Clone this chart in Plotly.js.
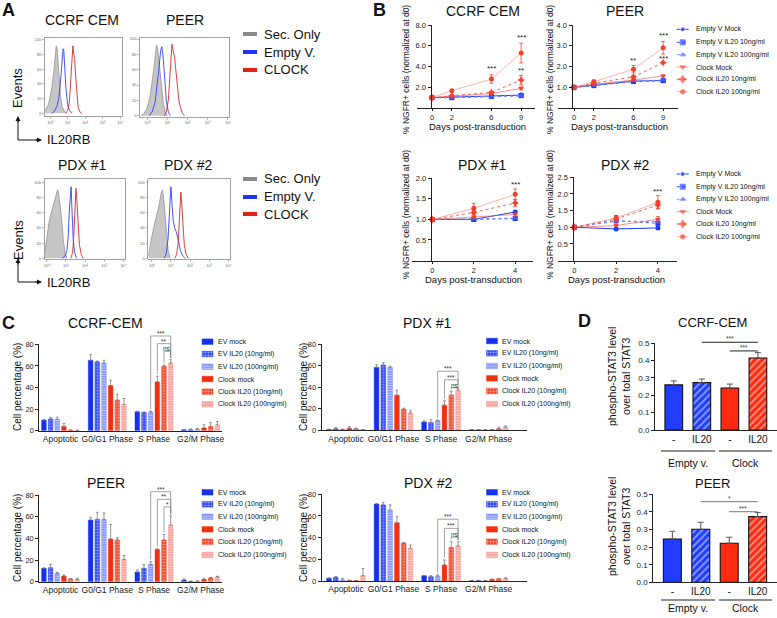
<!DOCTYPE html>
<html>
<head>
<meta charset="utf-8">
<script src="https://cdn.plot.ly/plotly-3.0.1.min.js"></script>
<style>
html,body{margin:0;padding:0;background:#fff;}
#chart{width:777px;height:618px;}
</style>
</head>
<body>
<div id="chart"></div>
<script>
// ================= DATA =================
// ---- Panel A: flow histograms (x = log10 IL20RB intensity, y = % of max) ----
const aDecades = [0, 1, 2, 3, 4];
const aDecadeLabels = ['10⁰', '10¹', '10²', '10³', '10⁴'];
const aPctTicks = [0, 20, 40, 60, 80, 100];
const aLegend = ['Sec. Only', 'Empty V.', 'CLOCK'];
const aTitles = ['CCRF CEM', 'PEER', 'PDX #1', 'PDX #2'];

const aCcrfSecX = [-0.29, -0.2, -0.1, 0, 0.1, 0.2, 0.28, 0.35, 0.4, 0.45, 0.52, 0.6, 0.7, 0.8, 0.9];
const aCcrfSecY = [2, 6, 12, 22, 35, 55, 78, 92, 88, 70, 45, 22, 8, 3, 0];
const aCcrfEvX = [0.1, 0.25, 0.4, 0.5, 0.6, 0.68, 0.74, 0.78, 0.83, 0.9, 1.0, 1.1, 1.25];
const aCcrfEvY = [0, 3, 10, 22, 45, 75, 88, 86, 65, 35, 12, 4, 0];
const aCcrfClkX = [0.9, 1.0, 1.1, 1.18, 1.24, 1.3, 1.34, 1.4, 1.46, 1.52, 1.6, 1.7, 1.8];
const aCcrfClkY = [0, 4, 15, 45, 80, 92, 82, 75, 50, 25, 8, 2, 0];

const aPeerSecX = [-0.3, -0.15, 0, 0.15, 0.3, 0.4, 0.47, 0.52, 0.6, 0.7, 0.8, 0.9, 1.0];
const aPeerSecY = [0, 3, 10, 25, 55, 82, 92, 88, 68, 40, 18, 5, 0];
const aPeerEvX = [0.1, 0.25, 0.4, 0.5, 0.6, 0.67, 0.73, 0.8, 0.88, 0.95, 1.05, 1.15];
const aPeerEvY = [0, 5, 18, 38, 65, 85, 90, 75, 45, 20, 5, 0];
const aPeerClkX = [0.85, 0.95, 1.05, 1.12, 1.18, 1.23, 1.28, 1.35, 1.42, 1.5, 1.58, 1.66, 1.75, 1.85];
const aPeerClkY = [0, 5, 20, 50, 80, 93, 85, 78, 60, 35, 18, 10, 3, 0];

const aPdx1SecX = [-0.12, -0.05, 0.02, 0.1, 0.18, 0.26, 0.34, 0.42, 0.5, 0.56, 0.62, 0.7, 0.78, 0.86, 0.95, 1.05];
const aPdx1SecY = [5, 20, 35, 45, 55, 62, 70, 78, 84, 90, 86, 70, 50, 25, 8, 0];
const aPdx1EvX = [0.8, 0.95, 1.05, 1.12, 1.18, 1.23, 1.27, 1.32, 1.38, 1.45, 1.55];
const aPdx1EvY = [0, 3, 10, 30, 65, 92, 94, 60, 25, 8, 0];
const aPdx1ClkX = [1.25, 1.35, 1.42, 1.47, 1.52, 1.56, 1.62, 1.7, 1.8, 1.9];
const aPdx1ClkY = [0, 8, 35, 75, 92, 80, 45, 18, 5, 0];

const aPdx2SecX = [-0.17, -0.1, 0, 0.1, 0.2, 0.3, 0.4, 0.48, 0.56, 0.62, 0.7, 0.78, 0.86, 0.96];
const aPdx2SecY = [3, 15, 28, 40, 50, 60, 72, 85, 90, 80, 55, 30, 10, 0];
const aPdx2EvX = [0.65, 0.75, 0.85, 0.92, 0.97, 1.0, 1.05, 1.12, 1.2, 1.28, 1.38, 1.5, 1.62, 1.75];
const aPdx2EvY = [0, 5, 25, 60, 88, 94, 75, 50, 40, 35, 25, 10, 3, 0];
const aPdx2ClkX = [1.2, 1.3, 1.38, 1.44, 1.48, 1.52, 1.56, 1.62, 1.7, 1.8, 1.9];
const aPdx2ClkY = [0, 5, 20, 50, 78, 87, 75, 45, 18, 5, 0];

// ---- Panel B: % NGFR+ cells normalized at d0 ----
const bSeries = ['Empty V Mock', 'Empty V IL20 10ng/ml', 'Empty V IL20 100ng/ml', 'Clock Mock', 'Clock IL20 10ng/ml', 'Clock IL20 100ng/ml'];
const bDaysCell = [0, 2, 6, 9];
const bDaysPdx = [0, 2, 4];
const bCcrf = [[1.0, 1.04, 1.15, 1.25], [1.0, 1.0, 1.12, 1.2], [1.0, 1.02, 1.1, 1.2], [1.0, 1.15, 1.4, 1.9], [1.0, 1.2, 1.5, 2.7], [1.0, 1.68, 2.8, 5.3]];
const bCcrfErr = [[0, 0.03, 0.05, 0.05], [0, 0.03, 0.05, 0.05], [0, 0.03, 0.05, 0.05], [0, 0.05, 0.1, 0.15], [0, 0.05, 0.1, 0.45], [0, 0.1, 0.4, 0.95]];
const bPeer = [[1.0, 1.1, 1.3, 1.33], [1.0, 1.08, 1.28, 1.32], [1.0, 1.1, 1.32, 1.35], [1.0, 1.15, 1.35, 1.55], [1.0, 1.2, 1.5, 2.19], [1.0, 1.27, 1.87, 2.9]];
const bPeerErr = [[0, 0.03, 0.04, 0.05], [0, 0.03, 0.04, 0.05], [0, 0.03, 0.04, 0.05], [0, 0.04, 0.05, 0.05], [0, 0.05, 0.05, 0.05], [0, 0.08, 0.18, 0.3]];
const bPdx1 = [[1, 1.0, 1.18], [1, 1.0, 1.02], [1, 1.01, 1.03], [1, 1.06, 1.12], [1, 1.17, 1.40], [1, 1.27, 1.61]];
const bPdx1Err = [[0, 0.02, 0.03], [0, 0.02, 0.02], [0, 0.02, 0.02], [0, 0.03, 0.04], [0, 0.05, 0.08], [0, 0.12, 0.13]];
const bPdx2 = [[1, 0.95, 0.98], [1, 1.2, 1.12], [1, 1.18, 1.18], [1, 1.05, 1.24], [1, 1.25, 1.67], [1, 1.28, 1.75]];
const bPdx2Err = [[0, 0.02, 0.03], [0, 0.15, 0.06], [0, 0.05, 0.06], [0, 0.04, 0.08], [0, 0.06, 0.1], [0, 0.06, 0.2]];
const bCcrfSig = [[6, 3.8, '***'], [9, 6.8, '***'], [9, 3.6, '**']];
const bPeerSig = [[6, 2.27, '**'], [9, 3.49, '***'], [9, 2.37, '***']];
const bPdx1Sig = [[4, 1.85, '***']];
const bPdx2Sig = [[4, 2.07, '***']];

// ---- Panel C: cell-cycle phase percentages ----
const cPhases = ['Apoptotic', 'G0/G1 Phase', 'S Phase', 'G2/M Phase'];
const cSeries = ['EV mock', 'EV IL20 (10ng/ml)', 'EV IL20 (100ng/ml)', 'Clock mock', 'Clock IL20 (10ng/ml)', 'Clock IL20 (100ng/ml)'];
const cCcrf = [[9.8, 65.2, 17.5, 0.8], [10.8, 63.7, 16.9, 0.8], [10.5, 62.8, 17.2, 1.0], [4.0, 41.8, 45.2, 2.5], [0.5, 28.3, 59.7, 4.0], [0.3, 24.3, 62.8, 5.5]];
const cCcrfErr = [[0.5, 5.3, 0.5, 0.3], [1.5, 0.8, 0.5, 0.8], [2.0, 2.4, 1.0, 1.0], [2.8, 5.0, 5.3, 3.0], [0.2, 5.5, 1.0, 3.5], [0.2, 5.5, 3.0, 3.0]];
const cPdx1 = [[0.8, 58.6, 7.8, 0.5], [1.5, 60.7, 7.2, 0.5], [0.8, 58.6, 9.0, 0.5], [2.0, 32.7, 23.4, 0.5], [1.5, 19.6, 32.7, 1.5], [0.5, 16.2, 37.4, 3.0]];
const cPdx1Err = [[0.3, 2.5, 1.0, 0.2], [1.0, 2.2, 2.5, 0.2], [0.3, 1.0, 0.5, 0.2], [1.5, 4.7, 4.0, 0.2], [0.5, 1.0, 3.7, 1.5], [0.2, 2.5, 2.2, 1.0]];
const cPeer = [[12.3, 56.9, 8.9, 1.5], [12.9, 57.5, 12.3, 0.3], [7.7, 57.5, 16.0, 0.5], [5.2, 39.4, 29.8, 2.0], [2.5, 38.5, 38.5, 3.5], [2.0, 20.6, 52.3, 4.5]];
const cPeerErr = [[0.5, 2.5, 2.0, 1.0], [3.0, 6.5, 3.5, 0.2], [1.0, 6.0, 2.5, 0.2], [1.0, 13.5, 0.5, 1.0], [0.3, 2.0, 5.0, 0.5], [1.0, 3.5, 8.5, 0.5]];
const cPdx2 = [[2.5, 71.0, 4.9, 0.3], [3.5, 70.2, 4.0, 0.3], [1.0, 65.5, 4.6, 0.3], [0.5, 53.8, 14.8, 1.5], [0.3, 35.0, 30.8, 2.0], [5.0, 30.2, 32.3, 2.5]];
const cPdx2Err = [[0.5, 0.5, 0.3, 0.1], [0.5, 2.4, 1.0, 0.1], [1.5, 4.7, 1.0, 0.1], [0.2, 5.6, 4.6, 0.2], [0.1, 0.5, 5.5, 0.3], [6.5, 3.0, 4.0, 0.5]];
const cCcrfSig = [['***', 2, 5, 87.7], ['**', 3, 5, 80.6], ['ns', 4, 5, 73.5]];
const cPdx1Sig = [['***', 2, 5, 55.0], ['***', 3, 5, 47.0], ['ns', 4, 5, 39.5]];
const cPeerSig = [['***', 2, 5, 83.0], ['**', 3, 5, 76.0], ['*', 4, 5, 69.0]];
const cPdx2Sig = [['***', 2, 5, 57.0], ['***', 3, 5, 48.6], ['ns', 4, 5, 40.5]];

// ---- Panel D: phospho-STAT3 / total STAT3 ----
const dLabels = ['-', 'IL20', '-', 'IL20'];
const dGroups = ['Empty v.', 'Clock'];
const dCcrf = [0.26, 0.273, 0.242, 0.415];
const dCcrfErr = [0.023, 0.021, 0.023, 0.031];
const dPeer = [0.246, 0.301, 0.222, 0.373];
const dPeerErr = [0.044, 0.040, 0.034, 0.023];
const dCcrfSig = [['***', 1, 3, 0.506], ['***', 2, 3, 0.456]];
const dPeerSig = [['*', 1, 3, 0.458], ['***', 2, 3, 0.401]];

// ================= HELPERS =================
const FONT = '"Liberation Sans", Arial, sans-serif';
const W = 777, H = 618;
const fx = p => p / W;
const fy = p => 1 - p / H;
const sub = k => (k === 1 ? '' : String(k));
const traces = [];
const annotations = [];
const shapes = [];
const layout = {
  width: W, height: H, margin: {l: 0, r: 0, t: 0, b: 0, pad: 0}, showlegend: false,
  paper_bgcolor: '#ffffff', plot_bgcolor: 'rgba(0,0,0,0)',
  font: {family: FONT, color: '#111'},
  barmode: 'group', bargap: 0.143, bargroupgap: 0.3
};
function setAxes(k, xa, ya) {
  layout['xaxis' + sub(k)] = Object.assign({anchor: 'y' + sub(k), showgrid: false, zeroline: false, fixedrange: true}, xa);
  layout['yaxis' + sub(k)] = Object.assign({anchor: 'x' + sub(k), showgrid: false, zeroline: false, fixedrange: true}, ya);
}
// data value -> paper fraction on subplot k (for marks allowed outside the plot range)
function dpx(k, v) { const a = layout['xaxis' + sub(k)]; return a.domain[0] + (v - a.range[0]) / (a.range[1] - a.range[0]) * (a.domain[1] - a.domain[0]); }
function dpy(k, v) { const a = layout['yaxis' + sub(k)]; return a.domain[0] + (v - a.range[0]) / (a.range[1] - a.range[0]) * (a.domain[1] - a.domain[0]); }
function ann(text, x, y, size, extra) {
  const a = {text: text, x: fx(x), y: fy(y), xref: 'paper', yref: 'paper', showarrow: false,
    xanchor: 'center', yanchor: 'middle', font: {family: FONT, size: size, color: '#111'}};
  return Object.assign(a, extra || {});
}
function pline(x0, y0, x1, y1, color, w) {
  return {type: 'line', xref: 'paper', yref: 'paper', x0: fx(x0), y0: fy(y0), x1: fx(x1), y1: fy(y1), line: {color: color, width: w}};
}
function prect(x0, y0, x1, y1, color) {
  return {type: 'rect', xref: 'paper', yref: 'paper', x0: fx(x0), y0: fy(y0), x1: fx(x1), y1: fy(y1), fillcolor: color, line: {width: 0}};
}

// ================= PANEL A =================
function histAxes(k, x0, x1, yTop, yBot, xr, yr) {
  const common = {showline: true, mirror: true, linecolor: '#8c8c8c', linewidth: 0.8, ticks: 'outside', ticklen: 2, tickwidth: 0.6, tickcolor: '#888', tickfont: {size: 4, color: '#666', family: FONT}};
  setAxes(k, Object.assign({domain: [fx(x0), fx(x1)], range: xr, tickvals: aDecades, ticktext: aDecadeLabels}, common),
             Object.assign({domain: [fy(yBot), fy(yTop)], range: yr, tickvals: aPctTicks}, common));
}
histAxes(1, 45, 122, 37.5, 116, [-0.29, 4.1], [-3.7, 103.4]);
histAxes(2, 140, 229, 37.7, 116.7, [-0.35, 4.05], [-1.3, 101.7]);
histAxes(3, 44.5, 125, 179.3, 259.3, [-0.12, 4.08], [-1.3, 103.9]);
histAxes(4, 148.3, 230, 179.3, 259.3, [-0.18, 4.09], [-1.3, 103.9]);
const histSets = [
  [1, aCcrfSecX, aCcrfSecY, aCcrfEvX, aCcrfEvY, aCcrfClkX, aCcrfClkY],
  [2, aPeerSecX, aPeerSecY, aPeerEvX, aPeerEvY, aPeerClkX, aPeerClkY],
  [3, aPdx1SecX, aPdx1SecY, aPdx1EvX, aPdx1EvY, aPdx1ClkX, aPdx1ClkY],
  [4, aPdx2SecX, aPdx2SecY, aPdx2EvX, aPdx2EvY, aPdx2ClkX, aPdx2ClkY]
];
histSets.forEach(s => {
  const k = s[0], xa = 'x' + sub(k), ya = 'y' + sub(k);
  traces.push({type: 'scatter', mode: 'lines', x: s[1], y: s[2], xaxis: xa, yaxis: ya, fill: 'tozeroy', fillcolor: '#c6c6c6', line: {color: '#8a8a8a', width: 0.7}, hoverinfo: 'skip'});
  traces.push({type: 'scatter', mode: 'lines', x: s[3], y: s[4], xaxis: xa, yaxis: ya, line: {color: '#3340ff', width: 0.9}, hoverinfo: 'skip'});
  traces.push({type: 'scatter', mode: 'lines', x: s[5], y: s[6], xaxis: xa, yaxis: ya, line: {color: '#d42a2a', width: 0.9}, hoverinfo: 'skip'});
});
annotations.push(ann('<b>A</b>', 8.5, 10, 18));
annotations.push(ann(aTitles[0], 82, 20, 14), ann(aTitles[1], 185, 20, 14), ann(aTitles[2], 82, 165, 14), ann(aTitles[3], 188, 165, 14));
const aLegColors = ['#8a8a8a', '#2233ff', '#e0201a'];
[[34, 52, 70], [179, 197, 214]].forEach(rows => {
  rows.forEach((ry, i) => {
    shapes.push(prect(243, ry - 2, 257, ry + 2, aLegColors[i]));
    annotations.push(ann(aLegend[i], 262, ry, 13, {xanchor: 'left'}));
  });
});
[[88, 140], [240, 282]].forEach(p => {
  const ev = p[0], cy = p[1];
  annotations.push(ann('Events', 18, ev, 13, {textangle: -90}));
  annotations.push(ann('IL20RB', 45, cy, 13, {xanchor: 'left'}));
  shapes.push({type: 'path', xref: 'paper', yref: 'paper', path: `M ${fx(18)},${fy(cy - 22)} L ${fx(18)},${fy(cy)} L ${fx(40)},${fy(cy)}`, line: {color: '#111', width: 1}});
  annotations.push({x: fx(18), y: fy(cy - 24), xref: 'paper', yref: 'paper', text: '', showarrow: true, ax: 0, ay: 8, arrowhead: 2, arrowsize: 1, arrowwidth: 1, arrowcolor: '#111', standoff: 0});
  annotations.push({x: fx(42), y: fy(cy), xref: 'paper', yref: 'paper', text: '', showarrow: true, ax: -8, ay: 0, arrowhead: 2, arrowsize: 1, arrowwidth: 1, arrowcolor: '#111', standoff: 0});
});

// ================= PANEL B =================
const bStyles = [
  {mc: '#1f3aff', lc: '#1f3aff', dash: 'solid', sym: 'circle', size: 5},
  {mc: '#1f3aff', lc: '#3a55ff', dash: 'dot', sym: 'square', size: 5},
  {mc: '#3d5bff', lc: '#7d90ff', dash: 'dot', sym: 'triangle-up', size: 5},
  {mc: '#f2412c', lc: 'rgba(240,80,60,0.6)', dash: 'solid', sym: 'triangle-down', size: 5},
  {mc: '#f2412c', lc: 'rgba(240,60,40,0.8)', dash: 'dot', sym: 'star-diamond', size: 6},
  {mc: '#f2412c', lc: 'rgba(245,130,115,0.6)', dash: 'solid', sym: 'circle', size: 5}
];
function lineAxes(k, xd0, xd1, yPos, yTop, yBot, xr, yr, xt, yt) {
  const tf = {size: 7.5, family: FONT, color: '#222'};
  setAxes(k, {domain: [fx(xd0), fx(xd1)], range: xr, showline: true, linecolor: '#222', linewidth: 1, ticks: 'outside', ticklen: 2, tickwidth: 1, tickcolor: '#222', tickvals: xt, tickfont: tf},
             {domain: [fy(yBot), fy(yTop)], range: yr, anchor: 'free', position: fx(yPos), showline: true, linecolor: '#222', linewidth: 1, ticks: 'outside', ticklen: 3, tickwidth: 1, tickcolor: '#222', tickvals: yt, ticktext: yt.map(v => v.toFixed(1)), tickfont: tf});
}
lineAxes(5, 417, 535, 430.5, 25, 108.1, [-1.52, 10.4], [0, 8], bDaysCell, [2, 4, 6, 8]);
lineAxes(6, 558, 678, 571.5, 25, 108.1, [-1.62, 10.5], [0, 4], bDaysCell, [1, 2, 3, 4]);
lineAxes(7, 411.7, 533, 430.8, 178.3, 260.5, [-1.0, 4.86], [0, 2], bDaysPdx, [0.5, 1, 1.5, 2]);
lineAxes(8, 558.3, 676.7, 572.5, 177.3, 260.6, [-0.77, 4.9], [0, 2.5], bDaysPdx, [0.5, 1, 1.5, 2, 2.5]);
function lineTraces(k, days, vals, errs, sig) {
  const xa = 'x' + sub(k), ya = 'y' + sub(k);
  vals.forEach((v, i) => {
    const s = bStyles[i];
    traces.push({type: 'scatter', mode: 'lines+markers', x: days, y: v, xaxis: xa, yaxis: ya,
      line: {color: s.lc, width: 1, dash: s.dash}, marker: {symbol: s.sym, size: s.size, color: s.mc},
      error_y: {type: 'data', array: errs[i], visible: true, color: s.mc, thickness: 0.8, width: 2}, hoverinfo: 'skip'});
  });
  sig.forEach(g => annotations.push({xref: 'paper', yref: 'paper', x: dpx(k, g[0]), y: dpy(k, g[1]), text: g[2], showarrow: false, font: {family: FONT, size: 8, color: '#222'}, xanchor: 'center', yanchor: 'middle'}));
}
lineTraces(5, bDaysCell, bCcrf, bCcrfErr, bCcrfSig);
lineTraces(6, bDaysCell, bPeer, bPeerErr, bPeerSig);
lineTraces(7, bDaysPdx, bPdx1, bPdx1Err, bPdx1Sig);
lineTraces(8, bDaysPdx, bPdx2, bPdx2Err, bPdx2Sig);
annotations.push(ann('<b>B</b>', 379, 10, 18));
annotations.push(ann('CCRF CEM', 483, 11, 14), ann('PEER', 625, 11, 14), ann('PDX #1', 482, 165, 14), ann('PDX #2', 625, 165, 14));
[[406, 70], [550, 70], [406, 215], [550, 215]].forEach(p => annotations.push(ann('% NGFR+ cells (normalized at d0)', p[0], p[1], 8.5, {textangle: -90})));
[[477, 126], [619, 126], [473, 280], [616.5, 280]].forEach(p => annotations.push(ann('Days post-transduction', p[0], p[1], 9.5)));

// ================= PANEL C =================
const cStyles = [
  {bg: '#1530f0', shape: '', fg: '#ffffff', size: 3, sol: 0.4, edge: '#1530f0'},
  {bg: '#1530f0', shape: '.', fg: '#ffffff', size: 3, sol: 0.5, edge: '#1530f0'},
  {bg: '#8494ff', shape: '-', fg: '#ffffff', size: 2.5, sol: 0.4, edge: '#6c80ff'},
  {bg: '#f2300f', shape: '', fg: '#ffffff', size: 3, sol: 0.4, edge: '#f2300f'},
  {bg: '#f2300f', shape: '.', fg: '#ffffff', size: 3, sol: 0.5, edge: '#f2300f'},
  {bg: '#f6a09a', shape: '-', fg: '#ffffff', size: 2.5, sol: 0.4, edge: '#f08a84'}
];
function barAxes(k, xd0, xd1, yTop, yBot, xr) {
  setAxes(k, {domain: [fx(xd0), fx(xd1)], range: xr, showline: true, linecolor: '#222', linewidth: 1, ticks: '', tickvals: [0, 1, 2, 3], ticktext: cPhases, tickfont: {size: 8.5, family: FONT, color: '#222'}},
             {domain: [fy(yBot), fy(yTop)], range: [0, 80], showline: true, linecolor: '#222', linewidth: 1, ticks: 'outside', ticklen: 3, tickwidth: 1, tickcolor: '#222', tickvals: [0, 20, 40, 60, 80], tickfont: {size: 7.5, family: FONT, color: '#222'}});
}
barAxes(9, 39.3, 221.7, 344.3, 430.7, [-0.456, 3.45]);
barAxes(10, 321.7, 526.7, 344.3, 430.3, [-0.51, 3.8]);
barAxes(11, 39.3, 221.7, 495, 581.7, [-0.456, 3.45]);
barAxes(12, 321.7, 526.7, 494.3, 581, [-0.51, 3.8]);
const slot = (1 - layout.bargap) / 6;
function barTraces(k, vals, errs, sig) {
  const xa = 'x' + sub(k), ya = 'y' + sub(k);
  vals.forEach((v, i) => {
    const s = cStyles[i];
    traces.push({type: 'bar', x: [0, 1, 2, 3], y: v, xaxis: xa, yaxis: ya, name: cSeries[i],
      marker: {color: s.bg, line: {color: s.edge, width: 0.4}, pattern: {shape: s.shape, fgcolor: s.fg, bgcolor: s.bg, size: s.size, solidity: s.sol, fillmode: 'overlay'}},
      error_y: {type: 'data', symmetric: false, array: errs[i], arrayminus: v.map(() => 0), visible: true, color: '#7a7a7a', thickness: 0.8, width: 1.3}, hoverinfo: 'skip'});
  });
  sig.forEach(g => {
    const a = g[1], b = g[2], h = g[3];
    const xa0 = dpx(k, 2 + (a - 2.5) * slot), xb0 = dpx(k, 2 + (b - 2.5) * slot);
    const la = dpy(k, Math.min(h - 1.5, vals[a][2] + errs[a][2] + 2));
    const lb = dpy(k, Math.min(h - 1.5, vals[b][2] + errs[b][2] + 1.5));
    const hy = dpy(k, h);
    shapes.push({type: 'path', xref: 'paper', yref: 'paper', path: `M ${xa0},${la} L ${xa0},${hy} L ${xb0},${hy} L ${xb0},${lb}`, line: {color: '#8a8a8a', width: 0.8}});
    annotations.push({xref: 'paper', yref: 'paper', x: (xa0 + xb0) / 2, y: hy, text: g[0], showarrow: false, xanchor: 'center', yanchor: 'bottom', yshift: -3, font: {family: FONT, size: 6.5, color: '#333'}});
  });
}
barTraces(9, cCcrf, cCcrfErr, cCcrfSig);
barTraces(10, cPdx1, cPdx1Err, cPdx1Sig);
barTraces(11, cPeer, cPeerErr, cPeerSig);
barTraces(12, cPdx2, cPdx2Err, cPdx2Sig);
annotations.push(ann('<b>C</b>', 8.5, 322.5, 18));
annotations.push(ann('CCRF-CEM', 105, 323, 14), ann('PDX #1', 427, 322.7, 14), ann('PEER', 106, 483.3, 14), ann('PDX #2', 428.3, 483.3, 14));
[[17, 387], [303, 387], [17, 538], [303, 538]].forEach(p => annotations.push(ann('Cell percentage (%)', p[0], p[1], 10, {textangle: -90})));

// ================= PANEL D =================
function dAxes(k, xd0, yTop, yBot) {
  setAxes(k, {domain: [fx(xd0), fx(776.7)], range: [-0.67, 3.67], showline: true, linecolor: '#222', linewidth: 1, ticks: '', tickvals: [0, 1, 2, 3], ticktext: dLabels, tickfont: {size: 10, family: FONT, color: '#111'}},
             {domain: [fy(yBot), fy(yTop)], range: [0, 0.5], showline: true, linecolor: '#222', linewidth: 1, ticks: 'outside', ticklen: 3, tickwidth: 1, tickcolor: '#222', tickvals: [0, 0.1, 0.2, 0.3, 0.4, 0.5], ticktext: ['0.0', '0.1', '0.2', '0.3', '0.4', '0.5'], tickfont: {size: 8, family: FONT, color: '#222'}});
}
dAxes(13, 655, 343.3, 430);
dAxes(14, 653.3, 494.3, 582.3);
function dTraces(k, vals, errs, sig, sigColor) {
  const xa = 'x' + sub(k), ya = 'y' + sub(k);
  const bgs = ['#1f3cff', '#1f3cff', '#ff2a0f', '#ff2a0f'];
  traces.push({type: 'bar', x: [0, 1, 2, 3], y: vals, width: [0.63, 0.63, 0.63, 0.63], xaxis: xa, yaxis: ya,
    marker: {color: bgs, line: {color: '#111', width: 1.1}, pattern: {shape: ['', '/', '', '/'], fgcolor: '#ffffff', bgcolor: bgs, size: 5, solidity: 0.35, fillmode: 'overlay'}},
    error_y: {type: 'data', symmetric: false, array: errs, arrayminus: vals.map(() => 0), visible: true, color: '#555', thickness: 1, width: 3}, hoverinfo: 'skip'});
  sig.forEach(g => {
    const y0 = dpy(k, g[3]), x0 = dpx(k, g[1]), x1 = dpx(k, g[2]);
    shapes.push({type: 'line', xref: 'paper', yref: 'paper', x0: x0, x1: x1, y0: y0, y1: y0, line: {color: sigColor, width: 1}});
    annotations.push({xref: 'paper', yref: 'paper', x: (x0 + x1) / 2, y: y0, text: g[0], showarrow: false, xanchor: 'center', yanchor: 'bottom', yshift: -2, font: {family: FONT, size: 6.5, color: '#333'}});
  });
}
dTraces(13, dCcrf, dCcrfErr, dCcrfSig, '#222');
dTraces(14, dPeer, dPeerErr, dPeerSig, '#777');
annotations.push(ann('<b>D</b>', 584, 321, 18));
annotations.push(ann('CCRF-CEM', 712.7, 322.7, 13), ann('PEER', 712.7, 483.3, 13));
annotations.push(ann('phospho-STAT3 level<br>over total STAT3', 619, 377, 10.5, {textangle: -90}));
annotations.push(ann('phospho-STAT3 level<br>over total STAT3', 619, 527, 10.5, {textangle: -90}));
[[451, 463], [600, 608]].forEach(p => {
  shapes.push(pline(661, p[0], 715, p[0], '#222', 1));
  shapes.push(pline(719, p[0], 772, p[0], '#222', 1));
  annotations.push(ann(dGroups[0], 688, p[1], 10.5), ann(dGroups[1], 745.5, p[1], 10.5));
});

// ================= LEGENDS (overlay axis in page pixels) =================
setAxes(15, {domain: [0, 1], range: [0, W], visible: false}, {domain: [0, 1], range: [H, 0], visible: false});
const bLegTop = [29.3, 42.3, 54.7, 67, 79.3, 91.7];
const bLegBot = [174, 186.7, 199.3, 211.7, 224, 236.7];
bStyles.forEach((s, i) => {
  traces.push({type: 'scatter', mode: 'lines+markers', xaxis: 'x15', yaxis: 'y15',
    x: [676.7, 682.7, 688.7, null, 676.7, 682.7, 688.7], y: [bLegTop[i], bLegTop[i], bLegTop[i], null, bLegBot[i], bLegBot[i], bLegBot[i]],
    line: {color: s.lc, width: 1, dash: s.dash}, marker: {symbol: s.sym, color: s.mc, size: [0, s.size, 0, 0, 0, s.size, 0]}, hoverinfo: 'skip'});
  annotations.push(ann(bSeries[i], 694, bLegTop[i], 7, {xanchor: 'left'}));
  annotations.push(ann(bSeries[i], 694, bLegBot[i], 7, {xanchor: 'left'}));
});
const cLegSets = [
  [207.5, 216, [341.7, 354, 366.7, 379, 391.7, 404.3]],
  [492, 500, [341, 353.3, 366, 378.3, 391, 404]],
  [207.5, 216, [492.3, 504.3, 516.7, 529.3, 541.7, 555]],
  [492, 500, [492.3, 504.3, 516.7, 529.3, 541.7, 555]]
];
cStyles.forEach((s, i) => {
  traces.push({type: 'bar', xaxis: 'x15', yaxis: 'y15', x: cLegSets.map(L => L[0]), base: cLegSets.map(L => L[2][i] - 2.8), y: cLegSets.map(() => 5.6),
    width: 11, offset: -5.5,
    marker: {color: s.bg, line: {color: s.edge, width: 0.4}, pattern: {shape: s.shape, fgcolor: s.fg, bgcolor: s.bg, size: s.size, solidity: s.sol, fillmode: 'overlay'}}, hoverinfo: 'skip'});
  cLegSets.forEach(L => annotations.push(ann(cSeries[i], L[1], L[2][i], 7, {xanchor: 'left'})));
});

layout.annotations = annotations;
layout.shapes = shapes;
Plotly.newPlot('chart', traces, layout, {staticPlot: true, displayModeBar: false});
</script>
</body>
</html>
